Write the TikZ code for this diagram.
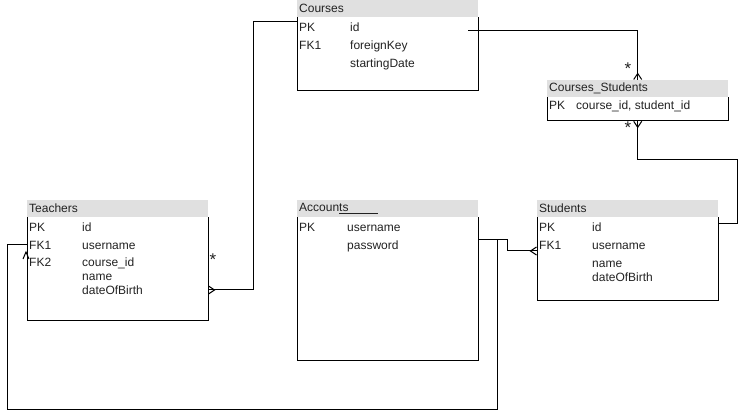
\documentclass[tikz,border=0pt]{standalone}
\usepackage{fontspec}
\setmainfont{Liberation Sans}
\usetikzlibrary{arrows.meta,positioning}
\definecolor{hdrgray}{HTML}{E0E0E0}
\definecolor{ink}{HTML}{222222}

\begin{document}
\begin{tikzpicture}[x=1pt,y=-1pt,
    font=\fontsize{12}{14}\selectfont, text=ink,
    hdr/.style={fill=hdrgray, anchor=north west, minimum width=181pt, minimum height=17pt,
        inner xsep=2pt, inner ysep=0pt, text width=177pt, align=left},
    box/.style={anchor=north, minimum width=181pt, inner sep=0pt},
    cell/.style={anchor=west, inner sep=0pt, text height=9pt, text depth=0pt},
    rel/.style={draw=black, line width=1pt},
    many/.style={postaction={draw, -{Straight Barb[reversed,length=6pt,width=8pt,line join=miter]}}},
    star/.style={anchor=base, inner sep=0pt, font=\fontsize{17}{17}\selectfont}]
    \useasboundingbox (0,0) rectangle (746,419);

    % Tables
    \node[hdr] (courses) at (297,0) {Courses};
    \node[box, minimum height=73pt] (coursesBody) at (courses.south) {};
    \draw[rel] (courses.south west) |- (coursesBody.south east) -- (courses.south east);

    \node[hdr] (cs) at (547,80) {Courses\_Students};
    \node[box, minimum height=23pt] (csBody) at (cs.south) {};
    \draw[rel] (cs.south west) |- (csBody.south east) -- (cs.south east);

    \node[hdr] (teachers) at (27,200) {Teachers};
    \node[box, minimum height=103pt] (teachersBody) at (teachers.south) {};
    \draw[rel] (teachers.south west) |- (teachersBody.south east) -- (teachers.south east);

    \node[hdr] (accounts) at (297,200) {Accoun\underline{ts\hspace{29pt}}};
    \node[box, minimum height=143pt] (accountsBody) at (accounts.south) {};
    \draw[rel] (accounts.south west) |- (accountsBody.south east) -- (accounts.south east);

    \node[hdr] (students) at (537,200) {Students};
    \node[box, minimum height=83pt] (studentsBody) at (students.south) {};
    \draw[rel] (students.south west) |- (studentsBody.south east) -- (students.south east);

    % Fields
    \node[cell] (coursesPK) at (299,27) {PK};
    \node[cell] (coursesId) at (350,27) {id};
    \node[cell] (coursesFK1) at (299,45) {FK1};
    \node[cell] (coursesFk) at (350,45) {foreignKey};
    \node[cell] (coursesDate) at (350,63) {startingDate};

    \node[cell] (csPK) at (549,105) {PK};
    \node[cell] (csKey) at (576,105) {course\_id, student\_id};

    \node[cell] (teachersPK) at (29,227) {PK};
    \node[cell] (teachersId) at (82,227) {id};
    \node[cell] (teachersFK1) at (29,245) {FK1};
    \node[cell] (teachersUser) at (82,245) {username};
    \node[cell] (teachersFK2) at (29,262) {FK2};
    \node[cell] (teachersCourse) at (82,262) {course\_id};
    \node[cell] (teachersName) at (82,276) {name};
    \node[cell] (teachersBirth) at (82,290) {dateOfBirth};

    \node[cell] (accountsPK) at (299,227) {PK};
    \node[cell] (accountsUser) at (347,227) {username};
    \node[cell] (accountsPass) at (347,245) {password};

    \node[cell] (studentsPK) at (539,227) {PK};
    \node[cell] (studentsId) at (592,227) {id};
    \node[cell] (studentsFK1) at (539,245) {FK1};
    \node[cell] (studentsUser) at (592,245) {username};
    \node[cell] (studentsName) at (592,263) {name};
    \node[cell] (studentsBirth) at (592,277) {dateOfBirth};

    % Connection points
    \coordinate (coursesR) at (468,31);
    \coordinate (coursesL) at (297,22);
    \coordinate (teachersR) at (208,290);
    \coordinate (teachersL) at (27,245);
    \coordinate (accountsR) at (478,240);
    \coordinate (studentsL) at (537,251);
    \coordinate (studentsR) at (718,224);

    % Relations
    \draw[rel, many] (coursesR) -| (cs.north);
    \draw[rel, many] (studentsR) -| (737,160) -| (csBody.south);
    \draw[rel, many] (coursesL) -- (253,22) |- (teachersR);
    \draw[rel, many] (accountsR) -- (507,240) |- (studentsL);
    \draw[rel] (accountsR) -- (497,240) -- (497,409) -| (7,245) -- (teachersL);
    \draw[rel] (23,259) -- (26,252) -- (29,259);

    % Multiplicities
    \node[star] (starTop) at (628,75) {*};
    \node[star] (starBottom) at (628,134) {*};
    \node[star] (starTeachers) at (213,266) {*};
\end{tikzpicture}
\end{document}
